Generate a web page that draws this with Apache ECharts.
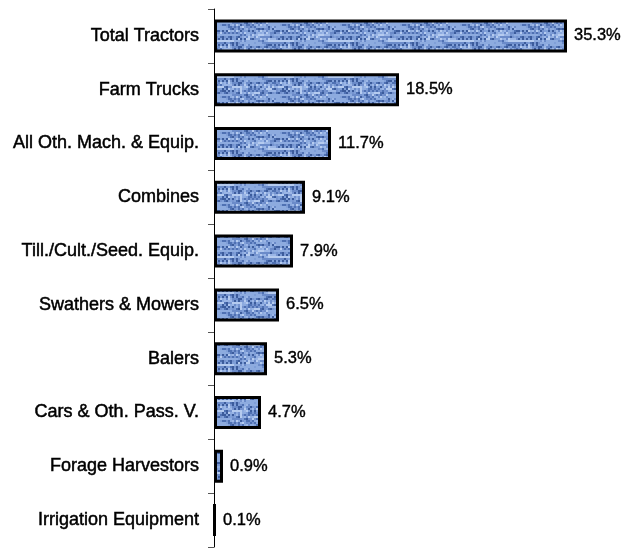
<!DOCTYPE html>
<html>
<head>
<meta charset="utf-8">
<script src="https://cdn.jsdelivr.net/npm/echarts@6/dist/echarts.min.js"></script>
<style>
  html, body { margin: 0; padding: 0; background: #fff; }
  #main { width: 625px; height: 548px; }
</style>
</head>
<body>
<div id="main"></div>
<script>
var categories = ['Total Tractors', 'Farm Trucks', 'All Oth. Mach. & Equip.', 'Combines',
    'Till./Cult./Seed. Equip.', 'Swathers & Mowers', 'Balers', 'Cars & Oth. Pass. V.',
    'Forage Harvestors', 'Irrigation Equipment'];
var shares = [35.3, 18.5, 11.7, 9.1, 7.9, 6.5, 5.3, 4.7, 0.9, 0.1];

// denim-like texture for the bars
function makeTexture() {
    var c = document.createElement('canvas');
    c.width = 60; c.height = 36;
    var ctx = c.getContext('2d');
    var cols = ['#6b8bc9', '#7f9fd8', '#9bb6e6', '#4f71b3', '#8dabdf', '#3c5c9c', '#b5cbef', '#7593cf'];
    var h = 11;
    ctx.fillStyle = '#7594d0';
    ctx.fillRect(0, 0, c.width, c.height);
    for (var y = 0; y < c.height; y += 2) {
        for (var x = 0; x < c.width; x += 2) {
            h = (h * 1103515245 + 12345) & 0x7fffffff;
            ctx.fillStyle = cols[(h >> 9) % cols.length];
            ctx.fillRect(x, y, 2 + ((h >> 5) & 1), 2);
        }
    }
    return c;
}

var font = 'Liberation Sans, Arial, sans-serif';
var myChart = echarts.init(document.getElementById('main'));
myChart.setOption({
    animation: false,
    grid: { left: 214, right: 11, top: 9, bottom: 1 },
    xAxis: {
        type: 'value', min: 0, max: 40, show: false
    },
    yAxis: {
        type: 'category', data: categories, inverse: true,
        axisLine: { lineStyle: { color: '#000', width: 1 } },
        axisTick: { show: true, length: 6, lineStyle: { color: '#555' } },
        axisLabel: {
            color: '#000', fontSize: 18, fontFamily: font, margin: 15,
            textBorderColor: '#000', textBorderWidth: 0.5
        }
    },
    series: [{
        type: 'bar',
        data: shares,
        barWidth: 33,
        itemStyle: {
            color: { image: makeTexture(), repeat: 'repeat' },
            borderColor: '#000', borderWidth: 3
        },
        label: {
            show: true, position: 'right', distance: 7,
            color: '#000', fontSize: 16.5, fontFamily: font,
            textBorderColor: '#000', textBorderWidth: 0.4,
            formatter: function (p) { return p.value.toFixed(1) + '%'; }
        }
    }]
});
</script>
</body>
</html>
